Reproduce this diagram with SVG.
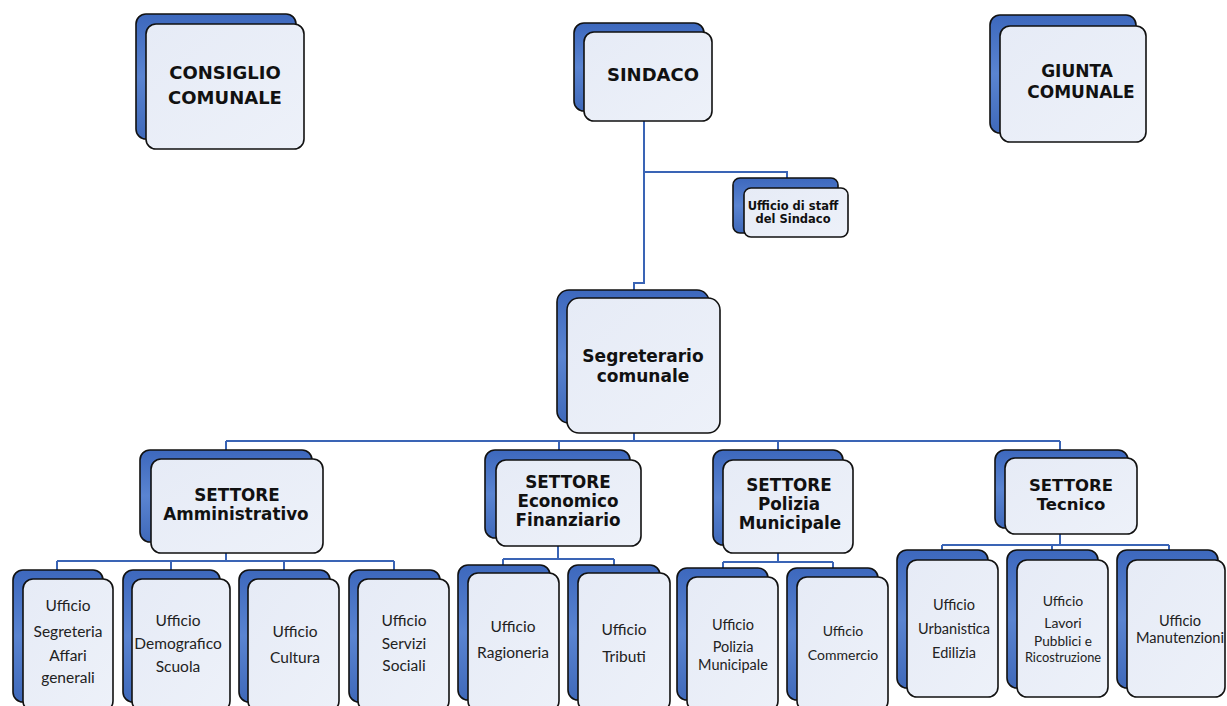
<svg xmlns="http://www.w3.org/2000/svg" width="1227" height="706" viewBox="0 0 1227 706">
<defs>
<linearGradient id="gBack" x1="0" y1="0" x2="0" y2="1">
<stop offset="0" stop-color="#3d68bd"/>
<stop offset="0.5" stop-color="#5a84d1"/>
<stop offset="1" stop-color="#3f69ba"/>
</linearGradient>
<linearGradient id="gFront" x1="0" y1="0" x2="1" y2="1">
<stop offset="0" stop-color="#e6ebf6"/>
<stop offset="1" stop-color="#edf1f9"/>
</linearGradient>
</defs>
<style>
.back{fill:url(#gBack);stroke:#111;stroke-width:1.6}
.front{fill:url(#gFront);stroke:#111;stroke-width:1.6}
.h{font-family:"DejaVu Sans",sans-serif;font-weight:bold;fill:#111;text-anchor:middle}
.t{font-family:Lato,"Liberation Sans",sans-serif;fill:#222;text-anchor:middle}
.c{fill:none;stroke:#3a64b5;stroke-width:2}
</style>
<rect width="1227" height="706" fill="#ffffff"/>

<g id="connectors">
<path class="c" d="M644,121 V283 H634 V290"/>
<path class="c" d="M644,172 H787 V178"/>
<path class="c" d="M634,433 V441"/>
<path class="c" d="M226,441 H1060 M226,441 V450 M559,441 V450 M778,441 V450 M1060,441 V450"/>
<path class="c" d="M226,553 V561 M57,561 H394 M57,561 V570 M171,561 V570 M284,561 V570 M394,561 V570"/>
<path class="c" d="M558,546 V559 M503,559 H614 M503,559 V565 M614,559 V565"/>
<path class="c" d="M778,553 V562 M723,562 H833 M723,562 V568 M833,562 V568"/>
<path class="c" d="M1060,534 V545 M942,545 H1169 M942,545 V550 M1052,545 V550 M1169,545 V550"/>
</g>

<g id="consiglio">
<rect class="back" x="136" y="14" width="160" height="125" rx="10"/>
<rect class="front" x="146" y="24" width="158" height="125" rx="10"/>
<text class="h" font-size="18" x="225" y="79">CONSIGLIO</text>
<text class="h" font-size="18" x="225" y="104">COMUNALE</text>
</g>

<g id="sindaco">
<rect class="back" x="574" y="23" width="130" height="88" rx="10"/>
<rect class="front" x="584" y="32" width="128" height="89" rx="10"/>
<text class="h" font-size="18" x="653" y="81">SINDACO</text>
</g>

<g id="giunta">
<rect class="back" x="990" y="15" width="146" height="118" rx="10"/>
<rect class="front" x="1000" y="26" width="146" height="116" rx="10"/>
<text class="h" font-size="17" x="1077" y="77">GIUNTA</text>
<text class="h" font-size="17" x="1081" y="98">COMUNALE</text>
</g>

<g id="staff">
<rect class="back" x="733" y="178" width="105" height="55" rx="7"/>
<rect class="front" x="744" y="188" width="104" height="49" rx="7"/>
<text class="h" font-size="11.5" x="793" y="210">Ufficio di staff</text>
<text class="h" font-size="11.5" x="793" y="223">del Sindaco</text>
</g>

<g id="segretario">
<rect class="back" x="557" y="290" width="152" height="133" rx="12"/>
<rect class="front" x="567" y="298" width="153" height="135" rx="12"/>
<text class="h" font-size="17" x="643" y="362">Segreterario</text>
<text class="h" font-size="17" x="643" y="382">comunale</text>
</g>

<g id="settore-amministrativo">
<rect class="back" x="140" y="450" width="172" height="92" rx="10"/>
<rect class="front" x="151" y="459" width="172" height="94" rx="10"/>
<text class="h" font-size="16.8" x="237" y="501">SETTORE</text>
<text class="h" font-size="16.8" x="236" y="520">Amministrativo</text>
</g>

<g id="settore-economico">
<rect class="back" x="485" y="450" width="145" height="88" rx="10"/>
<rect class="front" x="496" y="460" width="145" height="86" rx="10"/>
<text class="h" font-size="16.8" x="568" y="488">SETTORE</text>
<text class="h" font-size="16.8" x="568" y="507">Economico</text>
<text class="h" font-size="16.8" x="568" y="526">Finanziario</text>
</g>

<g id="settore-polizia">
<rect class="back" x="713" y="450" width="130" height="95" rx="10"/>
<rect class="front" x="723" y="460" width="130" height="93" rx="10"/>
<text class="h" font-size="16.8" x="789" y="491">SETTORE</text>
<text class="h" font-size="16.8" x="789" y="510">Polizia</text>
<text class="h" font-size="16.8" x="790" y="529">Municipale</text>
</g>

<g id="settore-tecnico">
<rect class="back" x="995" y="450" width="133" height="78" rx="10"/>
<rect class="front" x="1005" y="458" width="132" height="76" rx="10"/>
<text class="h" font-size="16.5" x="1071" y="491">SETTORE</text>
<text class="h" font-size="16.5" x="1071" y="510">Tecnico</text>
</g>

<g id="uff-segreteria">
<rect class="back" x="13" y="570" width="90" height="132" rx="10"/>
<rect class="front" x="23" y="579" width="90" height="132" rx="10"/>
<text class="t" font-size="15.5" x="68" y="611">Ufficio</text>
<text class="t" font-size="15.5" x="68" y="637">Segreteria</text>
<text class="t" font-size="15.5" x="68" y="661">Affari</text>
<text class="t" font-size="15.5" x="68" y="683">generali</text>
</g>

<g id="uff-demografico">
<rect class="back" x="123" y="570" width="97" height="132" rx="10"/>
<rect class="front" x="132" y="579" width="98" height="132" rx="10"/>
<text class="t" font-size="15.5" x="178" y="626">Ufficio</text>
<text class="t" font-size="15.5" x="178" y="649">Demografico</text>
<text class="t" font-size="15.5" x="178" y="672">Scuola</text>
</g>

<g id="uff-cultura">
<rect class="back" x="239" y="570" width="91" height="132" rx="10"/>
<rect class="front" x="248" y="579" width="91" height="132" rx="10"/>
<text class="t" font-size="15.5" x="295" y="637">Ufficio</text>
<text class="t" font-size="15.5" x="295" y="663">Cultura</text>
</g>

<g id="uff-servizi">
<rect class="back" x="349" y="570" width="91" height="132" rx="10"/>
<rect class="front" x="358" y="579" width="91" height="132" rx="10"/>
<text class="t" font-size="15.5" x="404" y="626">Ufficio</text>
<text class="t" font-size="15.5" x="404" y="649">Servizi</text>
<text class="t" font-size="15.5" x="404" y="671">Sociali</text>
</g>

<g id="uff-ragioneria">
<rect class="back" x="458" y="565" width="92" height="135" rx="10"/>
<rect class="front" x="468" y="573" width="91" height="138" rx="10"/>
<text class="t" font-size="15.5" x="513" y="632">Ufficio</text>
<text class="t" font-size="15.5" x="513" y="658">Ragioneria</text>
</g>

<g id="uff-tributi">
<rect class="back" x="568" y="565" width="92" height="135" rx="10"/>
<rect class="front" x="578" y="573" width="92" height="138" rx="10"/>
<text class="t" font-size="15.5" x="624" y="635">Ufficio</text>
<text class="t" font-size="15.5" x="624" y="662">Tributi</text>
</g>

<g id="uff-polizia">
<rect class="back" x="677" y="568" width="91" height="132" rx="10"/>
<rect class="front" x="687" y="577" width="91" height="134" rx="10"/>
<text class="t" font-size="14.5" x="733" y="630">Ufficio</text>
<text class="t" font-size="14.5" x="733" y="652">Polizia</text>
<text class="t" font-size="14.5" x="733" y="670">Municipale</text>
</g>

<g id="uff-commercio">
<rect class="back" x="787" y="568" width="91" height="132" rx="10"/>
<rect class="front" x="797" y="577" width="91" height="134" rx="10"/>
<text class="t" font-size="14" x="843" y="636">Ufficio</text>
<text class="t" font-size="14" x="843" y="660">Commercio</text>
</g>

<g id="uff-urbanistica">
<rect class="back" x="897" y="550" width="91" height="138" rx="10"/>
<rect class="front" x="907" y="560" width="91" height="137" rx="10"/>
<text class="t" font-size="14.5" x="954" y="610">Ufficio</text>
<text class="t" font-size="14.5" x="954" y="634">Urbanistica</text>
<text class="t" font-size="14.5" x="954" y="658">Edilizia</text>
</g>

<g id="uff-lavori">
<rect class="back" x="1007" y="550" width="91" height="138" rx="10"/>
<rect class="front" x="1017" y="560" width="91" height="137" rx="10"/>
<text class="t" font-size="14" x="1063" y="606">Ufficio</text>
<text class="t" font-size="14" x="1063" y="628">Lavori</text>
<text class="t" font-size="13.6" x="1063" y="646">Pubblici e</text>
<text class="t" font-size="12.8" x="1063" y="662">Ricostruzione</text>
</g>

<g id="uff-manutenzioni">
<rect class="back" x="1117" y="550" width="101" height="138" rx="10"/>
<rect class="front" x="1127" y="560" width="98" height="137" rx="10"/>
<text class="t" font-size="14.6" x="1180" y="626">Ufficio</text>
<text class="t" font-size="14.6" x="1180" y="643">Manutenzioni</text>
</g>
</svg>
